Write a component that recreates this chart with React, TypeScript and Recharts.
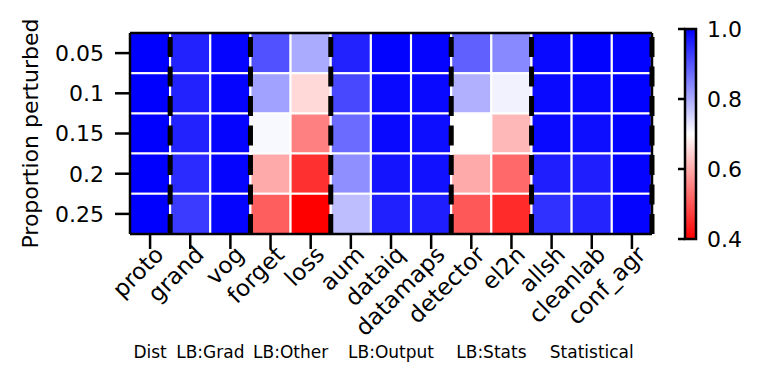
import React from 'react';
import { BarChart, Bar, XAxis, YAxis, Cell, ReferenceLine } from 'recharts';

const methods = ['proto', 'grand', 'vog', 'forget', 'loss', 'aum', 'dataiq', 'datamaps', 'detector', 'el2n', 'allsh', 'cleanlab', 'conf_agr'];
const proportions = ['0.05', '0.1', '0.15', '0.2', '0.25'];
const groupNames = ['Dist', 'LB:Grad', 'LB:Other', 'LB:Output', 'LB:Stats', 'Statistical'];
const groupSizes = [1, 2, 2, 3, 2, 3];
const colorbarTicks = [0.4, 0.6, 0.8, 1.0];

// one list per perturbation level, in the order of `methods`
const p005 = [1.0, 0.96, 0.995, 0.905, 0.8, 0.96, 0.998, 0.995, 0.887, 0.84, 0.99, 0.998, 0.998];
const p010 = [1.0, 0.96, 0.995, 0.81, 0.654, 0.915, 0.99, 0.99, 0.793, 0.715, 0.99, 0.99, 0.998];
const p015 = [1.0, 0.96, 0.995, 0.708, 0.55, 0.874, 0.99, 0.985, 0.7, 0.617, 0.99, 0.985, 0.998];
const p020 = [1.0, 0.95, 0.995, 0.6, 0.457, 0.832, 0.976, 0.98, 0.6, 0.523, 0.965, 0.965, 0.995];
const p025 = [1.0, 0.93, 0.995, 0.51, 0.4, 0.776, 0.962, 0.965, 0.504, 0.449, 0.944, 0.958, 0.995];

const rows = [p005, p010, p015, p020, p025];

const VMIN = 0.4;
const VMAX = 1.0;
const FONT = '"DejaVu Sans", sans-serif';

// matplotlib bwr_r
function bwrR(v: number) {
  let t = (v - VMIN) / (VMAX - VMIN);
  t = Math.max(0, Math.min(1, t));
  if (t < 0.5) {
    const c = Math.round(510 * t);
    return `rgb(255,${c},${c})`;
  }
  const c = Math.round(510 * (1 - t));
  return `rgb(${c},${c},255)`;
}

// pos = column centre on a 0..n numeric axis (used for group labels)
const data = methods.map((m, i) => ({ method: m, pos: i + 0.5 }));

// last method of each group (dashed line goes at its right edge) and group centres
const groupEnds: string[] = [];
const groupCenters: number[] = [];
groupSizes.reduce((acc, n) => {
  groupCenters.push(acc + n / 2);
  groupEnds.push(methods[acc + n - 1]);
  return acc + n;
}, 0);

function MethodTick(props: any) {
  const { x, y, payload } = props;
  const ax = x + 15;
  const ay = y + 5;
  return (
    <text
      x={ax}
      y={ay}
      transform={`rotate(-45, ${ax}, ${ay})`}
      textAnchor="end"
      fontSize={23}
      fontFamily={FONT}
      fill="#000"
    >
      {payload.value}
    </text>
  );
}

function GroupTick(props: any) {
  const { x, y, index } = props;
  return (
    <text x={x} y={y + 22} textAnchor="middle" fontSize={17} fontFamily={FONT} fill="#000">
      {groupNames[index]}
    </text>
  );
}

// colorbar geometry
const CB_X = 685;
const CB_TOP = 29;
const CB_H = 210;
const CB_W = 11;

export default function App() {
  return (
    <div style={{ position: 'absolute', left: 0, top: 0, width: 762, height: 382, background: '#fff' }}>
      <BarChart
        width={762}
        height={382}
        data={data}
        margin={{ top: 33, right: 110, bottom: 0, left: 0 }}
        barCategoryGap={0}
        barGap={0}
      >
        <XAxis
          dataKey="method"
          type="category"
          interval={0}
          height={100}
          axisLine={false}
          tickSize={15}
          tickLine={{ stroke: '#000', strokeWidth: 2.5 }}
          tick={<MethodTick />}
        />
        <XAxis
          xAxisId="grp"
          dataKey="pos"
          type="number"
          domain={[0, methods.length]}
          allowDataOverflow
          ticks={groupCenters}
          interval={0}
          height={48}
          axisLine={false}
          tickLine={false}
          tickSize={0}
          tick={<GroupTick />}
        />
        <YAxis
          type="number"
          domain={[0, proportions.length]}
          allowDataOverflow
          reversed
          width={130}
          ticks={proportions.map((_, i) => i + 0.5)}
          tickFormatter={(v: number) => proportions[Math.floor(v)]}
          axisLine={false}
          tickSize={15}
          tickMargin={11}
          tickLine={{ stroke: '#000', strokeWidth: 2.5 }}
          tick={{ fontSize: 22, fill: '#000', fontFamily: FONT }}
        />
        {rows.map((vals, r) => (
          <Bar
            key={proportions[r]}
            dataKey={() => 1}
            stackId="cells"
            isAnimationActive={false}
          >
            {vals.map((v, c) => (
              <Cell key={methods[c]} fill={bwrR(v)} stroke="#fff" strokeWidth={2} />
            ))}
          </Bar>
        ))}
        {/* frame */}
        <ReferenceLine y={0} stroke="#000" strokeWidth={2.5} />
        <ReferenceLine y={proportions.length} stroke="#000" strokeWidth={2.5} />
        <ReferenceLine x={methods[0]} position="start" stroke="#000" strokeWidth={2.5} />
        <ReferenceLine x={methods[methods.length - 1]} position="end" stroke="#000" strokeWidth={2.5} />
        {/* group separators */}
        {groupEnds.map((m) => (
          <ReferenceLine
            key={m}
            x={m}
            position="end"
            stroke="#000"
            strokeWidth={5}
            strokeDasharray="20 9.5"
          />
        ))}
      </BarChart>
      <svg
        width={762}
        height={382}
        style={{ position: 'absolute', left: 0, top: 0, pointerEvents: 'none' }}
      >
        <defs>
          <linearGradient id="cbar" x1="0" y1="1" x2="0" y2="0">
            <stop offset="0" stopColor={bwrR(VMIN)} />
            <stop offset="0.5" stopColor="#fff" />
            <stop offset="1" stopColor={bwrR(VMAX)} />
          </linearGradient>
        </defs>
        <text
          x={37.5}
          y={133.5}
          transform="rotate(-90, 37.5, 133.5)"
          textAnchor="middle"
          fontSize={22}
          fontFamily={FONT}
          fill="#000"
        >
          Proportion perturbed
        </text>
        <rect x={CB_X} y={CB_TOP} width={CB_W} height={CB_H} fill="url(#cbar)" stroke="#000" strokeWidth={2.5} />
        {colorbarTicks.map((t) => {
          const ty = CB_TOP + CB_H - ((t - VMIN) / (VMAX - VMIN)) * CB_H;
          return (
            <g key={t}>
              <line x1={CB_X - 7} x2={CB_X} y1={ty} y2={ty} stroke="#000" strokeWidth={2.5} />
              <text x={707} y={ty} dy="0.35em" fontSize={22} fontFamily={FONT} fill="#000">
                {t.toFixed(1)}
              </text>
            </g>
          );
        })}
      </svg>
    </div>
  );
}
